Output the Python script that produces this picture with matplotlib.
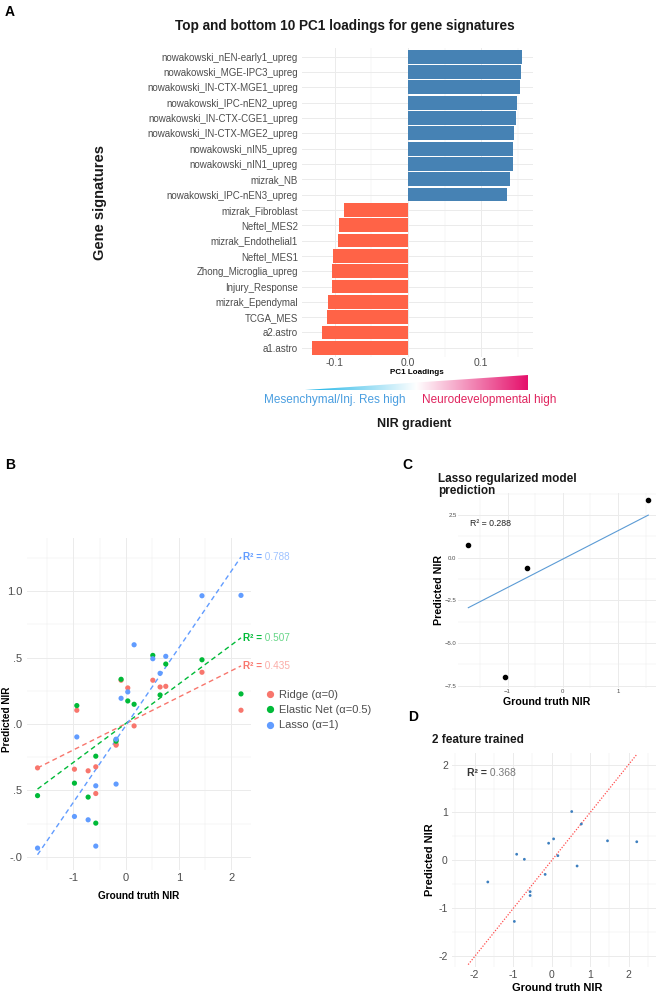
import numpy as np
import matplotlib
matplotlib.use("Agg")
import matplotlib.pyplot as plt
from matplotlib.colors import LinearSegmentedColormap
from matplotlib.patches import Polygon
from matplotlib.lines import Line2D
from matplotlib.ticker import MultipleLocator

plt.rcParams["font.family"] = ["Liberation Sans", "DejaVu Sans"]

W, H = 658, 993
GRID = "#ebebeb"
TXT = "#4d4d4d"

# ---- panel A: PC1 loadings (top to bottom)
genes = [
    "nowakowski_nEN-early1_upreg", "nowakowski_MGE-IPC3_upreg",
    "nowakowski_IN-CTX-MGE1_upreg", "nowakowski_IPC-nEN2_upreg",
    "nowakowski_IN-CTX-CGE1_upreg", "nowakowski_IN-CTX-MGE2_upreg",
    "nowakowski_nIN5_upreg", "nowakowski_nIN1_upreg", "mizrak_NB",
    "nowakowski_IPC-nEN3_upreg", "mizrak_Fibroblast", "Neftel_MES2",
    "mizrak_Endothelial1", "Neftel_MES1", "Zhong_Microglia_upreg",
    "Injury_Response", "mizrak_Ependymal", "TCGA_MES", "a2.astro", "a1.astro",
]
loadings = [0.156, 0.155, 0.153, 0.149, 0.148, 0.145, 0.144, 0.144, 0.139, 0.136,
            -0.088, -0.095, -0.096, -0.103, -0.1035, -0.1035, -0.109, -0.111,
            -0.117, -0.1315]

# ---- panel B: predicted vs ground truth, three models
gt_b = [-1.68, -0.98, -0.935, -0.72, -0.575, -0.575, -0.19, -0.19, -0.095,
        0.032, 0.152, 0.507, 0.645, 0.753, 1.44, 2.18]
ridge = [-0.331, -0.341, 0.103, -0.353, -0.323, -0.524, -0.153, -0.16, 0.329,
         0.271, -0.015, 0.329, 0.278, 0.283, 0.389, 0.103]
enet = [-0.540, -0.446, 0.138, -0.551, -0.243, -0.747, -0.12, -0.13, 0.336,
        0.173, 0.148, 0.516, 0.218, 0.451, 0.483, 0.226]
lasso = [-0.935, -0.697, -0.098, -0.722, -0.466, -0.920, -0.115, -0.453, 0.193,
         0.241, 0.596, 0.491, 0.381, 0.509, 0.965, 0.968]
model_names = ["Ridge (α=0)", "Elastic Net (α=0.5)", "Lasso (α=1)"]
model_colors = ["#F8766D", "#00BA38", "#619CFF"]
fit_slope = [0.199, 0.295, 0.581]
fit_icpt = [0.003, 0.005, -0.009]
r2_b = ["0.435", "0.507", "0.788"]

# ---- panel C: lasso regularized model
gt_c = [-1.71, -1.04, -0.647, 1.55]
pred_c = [0.745, -7.0, -0.62, 3.38]
c_slope, c_icpt = 1.666, -0.08
r2_c = "0.288"

# ---- panel D: 2 feature trained
gt_d = [-1.66, -0.97, -0.91, -0.71, -0.56, -0.56, -0.17, -0.08, 0.05, 0.16,
        0.52, 0.66, 0.77, 1.45, 2.21]
pred_d = [-0.448, -1.27, 0.13, 0.025, -0.65, -0.73, -0.29, 0.36, 0.45, 0.10,
          1.02, -0.115, 0.76, 0.41, 0.39]
r2_d = "0.368"

fig = plt.figure(figsize=(W / 100, H / 100), dpi=100)


def px_axes(l, t, r, b):
    return fig.add_axes([l / W, 1 - b / H, (r - l) / W, (b - t) / H])


def ftext(x, y, s, **kw):
    return fig.text(x / W, 1 - y / H, s, **kw)


def minimal(ax, size, pad=2):
    for sp in ax.spines.values():
        sp.set_visible(False)
    ax.tick_params(which="both", length=0, labelsize=size, labelcolor=TXT, pad=pad)
    ax.grid(which="major", color=GRID, lw=0.7)
    ax.grid(which="minor", color=GRID, lw=0.35)
    ax.set_axisbelow(True)


# ================= A
ftext(5, 12, "A", fontsize=10, fontweight="bold", va="center")
ftext(345, 26, "Top and bottom 10 PC1 loadings for gene signatures",
      fontsize=9.8, fontweight="bold", ha="center", va="center", color="#1a1a1a")

axA = px_axes(302, 47.5, 533, 357)
pos = np.arange(len(genes))[::-1]
cols = ["#4682B4" if v > 0 else "#FF6347" for v in loadings]
axA.barh(pos, loadings, height=0.9, color=cols, zorder=2)
axA.set_yticks(pos)
axA.set_yticklabels(genes)
axA.set_ylim(-0.6, len(genes) - 0.4)
axA.set_xlim(-0.145, 0.171)
axA.set_xticks([-0.1, 0.0, 0.1])
axA.set_xticklabels(["-0.1", "0.0", "0.1"])
axA.xaxis.set_minor_locator(MultipleLocator(0.05))
minimal(axA, 7.0, pad=3)
axA.tick_params(axis="x", labelsize=7.5, pad=1)
ftext(417, 372.5, "PC1 Loadings", fontsize=5.8, fontweight="bold", ha="center", va="center")
ftext(100, 202, "Gene signatures", fontsize=10.5, fontweight="bold", rotation=90,
      ha="center", va="center", color="#1a1a1a")

# gradient wedge
axG = px_axes(305, 375, 528, 390)
nir_cmap = LinearSegmentedColormap.from_list("nir", ["#16b2e6", "#ffffff", "#e5106b"])
grad = np.linspace(0, 1, 256)[None, :]
im = axG.imshow(grad, cmap=nir_cmap, aspect="auto", extent=[0, 1, 0, 1])
wedge = Polygon([(0, 0), (1, 0), (1, 1)], closed=True, transform=axG.transAxes,
                facecolor="none", edgecolor="none")
axG.add_patch(wedge)
im.set_clip_path(wedge)
axG.set_xlim(0, 1)
axG.set_ylim(0, 1)
axG.axis("off")
ftext(335, 400.5, "Mesenchymal/Inj. Res high", fontsize=8.5, color="#4a9ee0",
      ha="center", va="center")
ftext(489, 400.5, "Neurodevelopmental high", fontsize=8.5, color="#e0245e",
      ha="center", va="center")
ftext(414, 424, "NIR gradient", fontsize=9, fontweight="bold", ha="center",
      va="center", color="#1a1a1a")

# ================= B
ftext(5, 465, "B", fontsize=10, fontweight="bold", va="center")
axB = px_axes(27, 538, 251, 870)
preds = [ridge, enet, lasso]
gt_arr = np.array(gt_b)
xr = np.array([gt_arr.min(), gt_arr.max()])
for p, c, m, b_, name, r2 in zip(preds, model_colors, fit_slope, fit_icpt,
                                 model_names, r2_b):
    axB.scatter(gt_b, p, s=14, color=c, edgecolors="none", zorder=3)
    axB.plot(xr, m * xr + b_, color=c, lw=1.0, ls=(0, (3.5, 2.5)), zorder=2)
    t1 = axB.annotate("R² =", xy=(xr[1], m * xr[1] + b_), xytext=(1.5, 0),
                      textcoords="offset points", fontsize=7.2, fontweight="bold",
                      color=c, ha="left", va="center")
    axB.annotate(" " + r2, xy=(1, 0), xycoords=t1, fontsize=7.2, color=c,
                 alpha=0.6, ha="left", va="bottom")
axB.set_xlim(-1.88, 2.37)
axB.set_ylim(-1.10, 1.40)
axB.set_xticks([-1, 0, 1, 2])
axB.set_xticklabels(["-1", "0", "1", "2"])
axB.set_yticks([-1.0, -0.5, 0.0, 0.5, 1.0])
axB.set_yticklabels(["-.0", ".5", ".0", ".5", "1.0"])
axB.xaxis.set_minor_locator(MultipleLocator(0.5))
axB.yaxis.set_minor_locator(MultipleLocator(0.25))
minimal(axB, 8, pad=2)
axB.tick_params(axis="y", pad=3.5)
ftext(139, 896, "Ground truth NIR", fontsize=7.2, fontweight="bold", ha="center", va="center")
ftext(7, 719, "Predicted NIR", fontsize=7.2, fontweight="bold", rotation=90,
      ha="center", va="center")
handles = [Line2D([], [], marker="o", ls="none", color=c, markersize=4.2)
           for c in model_colors]
axB.legend(handles, model_names, loc="upper left", frameon=False, fontsize=8,
           bbox_to_anchor=(264.5 / W, 1 - 690 / H), bbox_transform=fig.transFigure,
           borderpad=0, borderaxespad=0, handlelength=1.0, handletextpad=0.3,
           labelspacing=0.47, labelcolor=TXT)

# ================= C
ftext(402, 465, "C", fontsize=10, fontweight="bold", va="center")
ftext(438, 473, "Lasso regularized model\nprediction", fontsize=8.5,
      fontweight="bold", va="top", linespacing=0.95, color="#1a1a1a")
axC = px_axes(458, 493, 656, 688)
gx = np.array([min(gt_c), max(gt_c)])
axC.plot(gx, c_slope * gx + c_icpt, color="#5b9bd5", lw=0.8, zorder=2)
axC.scatter(gt_c, pred_c, s=9, color="black", zorder=3)
axC.text(0.06, 0.845, "R² = " + r2_c, transform=axC.transAxes, fontsize=6.3,
         color="#222222", va="center")
axC.set_xlim(-1.897, 1.69)
axC.set_ylim(-7.64, 3.8)
axC.set_xticks([-1, 0, 1])
axC.set_yticks([-7.5, -5.0, -2.5, 0.0, 2.5])
axC.xaxis.set_minor_locator(MultipleLocator(0.5))
axC.yaxis.set_minor_locator(MultipleLocator(1.25))
minimal(axC, 4.3, pad=1)
ftext(547, 702, "Ground truth NIR", fontsize=7.7, fontweight="bold", ha="center", va="center")
ftext(439, 590, "Predicted NIR", fontsize=7.7, fontweight="bold", rotation=90,
      ha="center", va="center")

# ================= D
ftext(408, 717, "D", fontsize=10, fontweight="bold", va="center")
ftext(432, 740, "2 feature trained", fontsize=8.5, fontweight="bold", va="center",
      color="#1a1a1a")
axD = px_axes(452, 753, 656, 967)
dl = np.array([-2.17, 2.21])
axD.plot(dl, dl, color="#ff4d4d", lw=0.9, ls=(0, (1, 1.3)), zorder=2)
axD.scatter(gt_d, pred_d, s=4, color="#3d7fbf", edgecolors="none", zorder=3)
t1 = axD.text(0.075, 0.905, "R² =", transform=axD.transAxes, fontsize=7.5,
              fontweight="bold", color="#333333", va="center")
axD.annotate(" " + r2_d, xy=(1, 0), xycoords=t1, fontsize=7.5, color="#777777",
             ha="left", va="bottom")
axD.set_xlim(-2.59, 2.71)
axD.set_ylim(-2.22, 2.24)
axD.set_xticks([-2, -1, 0, 1, 2])
axD.set_yticks([-2, -1, 0, 1, 2])
axD.set_xticklabels(["-2", "-1", "0", "1", "2"])
axD.set_yticklabels(["-2", "-1", "0", "1", "2"])
axD.xaxis.set_minor_locator(MultipleLocator(0.5))
axD.yaxis.set_minor_locator(MultipleLocator(0.5))
minimal(axD, 7.5, pad=2)
axD.tick_params(axis="y", pad=3)
ftext(557, 988, "Ground truth NIR", fontsize=7.9, fontweight="bold", ha="center", va="center")
ftext(430, 860, "Predicted NIR", fontsize=7.9, fontweight="bold", rotation=90,
      ha="center", va="center")

fig.savefig("out.png", dpi=100)
